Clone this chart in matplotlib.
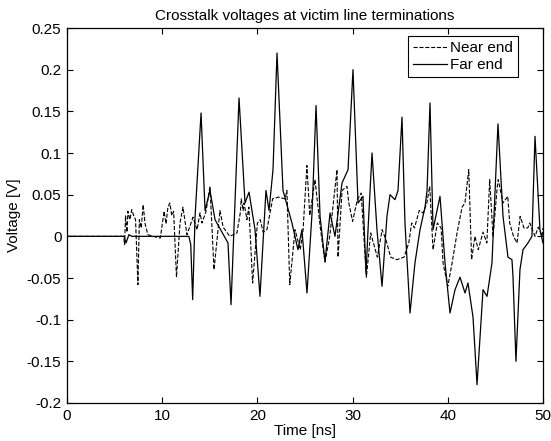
import matplotlib
matplotlib.use("Agg")
import matplotlib.pyplot as plt

plt.rcParams["font.family"] = ["Liberation Sans", "DejaVu Sans"]
plt.rcParams["axes.unicode_minus"] = False

# near end (dashed) - time [ns], voltage [V]
near_t = [0, 5.95, 6.05, 6.15, 6.3, 6.4, 6.6, 6.8, 7.0, 7.2, 7.45, 7.6, 7.8, 8.0,
          8.2, 8.5, 9.0, 9.8, 10.2, 10.4, 10.6, 10.8, 11.0, 11.2, 11.5, 11.87,
          12.18, 12.6, 13.24, 13.66, 13.97, 14.18, 14.6, 15.02, 15.44, 16.07,
          16.4, 17.1, 17.85, 18.2, 18.3, 18.5, 18.6, 18.9, 19.1, 19.5, 20.0,
          20.3, 20.6, 21.0, 21.6, 22.2, 22.9, 23.1, 23.4, 23.95, 24.5, 24.8,
          25.2, 25.5, 26.05, 26.6, 27.1, 27.6, 28.36, 28.47, 28.89, 29.41,
          29.6, 30.0, 30.5, 30.9, 31.45, 31.9, 32.6, 33.1, 33.5, 34.0, 34.65,
          35.4, 35.9, 36.2, 36.5, 37.0, 37.4, 37.8, 38.1, 38.45, 38.9, 39.3,
          39.5, 40.0, 40.45, 40.97, 41.5, 41.8, 42.2, 42.5, 42.85, 43.2, 43.7,
          44.1, 44.4, 44.75, 45.2, 45.3, 45.8, 46.3, 46.5, 46.9, 47.27, 47.6,
          48.0, 48.4, 48.6, 49.16, 49.5, 49.9, 50]
near_v = [0, 0, -0.01, 0.025, 0.005, 0.03, 0.02, 0.032, 0.025, 0.02, -0.058,
          0.02, 0.01, 0.038, 0.015, 0.002, 0, -0.002, 0.03, 0.015, 0.035, 0.04,
          0.025, 0.03, -0.049, 0.016, 0.035, 0.002, 0.023, 0.008, 0.028, 0.016,
          0.03, 0.06, -0.04, 0.031, 0.011, 0.0, 0.004, 0.028, 0.045, 0.031,
          0.04, 0.02, 0.035, -0.056, 0.016, 0.02, 0.005, 0.008, 0.045, 0.047,
          0.045, 0.055, -0.058, 0.008, -0.016, 0.008, 0.085, 0.025, 0.068,
          0.011, -0.031, 0.0, 0.08, -0.025, 0.055, 0.06, 0.04, 0.018, 0.044,
          0.052, -0.049, 0.004, -0.025, 0.008, -0.004, -0.025, -0.028, -0.025,
          -0.008, 0.016, 0.01, 0.031, 0.028, 0.04, 0.06, -0.016, 0.016, 0.01,
          -0.032, -0.06, -0.032, 0.004, 0.035, 0.04, 0.08, -0.028, 0.0, -0.016,
          0.005, -0.008, 0.068, 0.0, 0.06, 0.068, 0.04, 0.048, 0.016, 0.0,
          -0.008, 0.024, 0.01, 0.01, 0.016, 0.0, 0.011, 0.0, 0.01]

# far end (solid)
far_t = [0, 6.0, 6.2, 6.5, 6.8, 12.8, 13.0, 13.2, 13.45, 14.08, 14.5, 15.02,
         15.55, 16.91, 17.23, 18.07, 18.7, 19.12, 19.75, 20.27, 20.9, 21.22,
         21.64, 22.06, 22.69, 23.63, 24.26, 24.68, 25.21, 25.74, 26.16, 26.58,
         27.1, 27.63, 28.15, 28.89, 29.52, 30.04, 30.57, 31.09, 31.41, 31.62,
         32.04, 32.56, 33.09, 33.61, 33.93, 34.45, 34.77, 35.19, 35.5, 36.03,
         36.55, 37.08, 37.61, 37.82, 38.13, 38.45, 39.18, 39.71, 40.23, 40.76,
         41.28, 41.81, 42.12, 42.65, 43.07, 43.7, 44.12, 44.64, 45.27, 45.8,
         46.32, 46.74, 46.85, 47.16, 47.58, 47.9, 48.42, 48.84, 49.16, 49.68, 50]
far_v = [0, 0, -0.008, 0.002, 0, 0, -0.01, -0.076, 0.023, 0.148, 0.031, 0.055,
         0.02, -0.008, -0.082, 0.166, 0.04, 0.053, 0.008, -0.072, 0.055, 0.031,
         0.08, 0.22, 0.055, 0.016, -0.016, 0.008, -0.068, 0.028, 0.157, 0.024,
         -0.03, 0.028, 0.0, 0.064, 0.08, 0.2, 0.04, 0.048, -0.045, 0.008, 0.1,
         0.008, -0.06, 0.024, 0.05, 0.044, 0.055, 0.143, 0.016, -0.092, -0.032,
         0.008, 0.035, 0.055, 0.16, 0.008, 0.048, -0.032, -0.092, -0.064,
         -0.049, -0.068, -0.056, -0.097, -0.178, -0.064, -0.072, -0.032, 0.135,
         0.024, -0.025, -0.028, -0.049, -0.15, -0.04, -0.016, -0.008, 0.0,
         0.12, 0.008, -0.008]

xticks = [0, 10, 20, 30, 40, 50]
yticks = [-0.2, -0.15, -0.1, -0.05, 0, 0.05, 0.1, 0.15, 0.2, 0.25]
ytick_labels = ["-0.2", "-0.15", "-0.1", "-0.05", "0", "0.05", "0.1", "0.15", "0.2", "0.25"]

fig = plt.figure(figsize=(5.51, 4.41), dpi=100)
ax = fig.add_axes([67 / 551, 1 - 403 / 441, 476 / 551, 375 / 441])

ax.plot(near_t, near_v, color="black", linestyle="--", linewidth=0.8, label="Near end")
ax.plot(far_t, far_v, color="black", linestyle="-", linewidth=0.9, label="Far end")

ax.set_xlim(0, 50)
ax.set_ylim(-0.2, 0.25)
ax.set_xticks(xticks)
ax.set_xticklabels([str(t) for t in xticks])
ax.set_yticks(yticks)
ax.set_yticklabels(ytick_labels)
ax.tick_params(direction="in", length=4, width=0.8, top=True, right=True,
               labelsize=11, pad=4, colors="black")
for s in ax.spines.values():
    s.set_linewidth(0.9)

ax.set_title("Crosstalk voltages at victim line terminations", fontsize=11, pad=6)
ax.set_xlabel("Time [ns]", fontsize=11, labelpad=1)
ax.set_ylabel("Voltage [V]", fontsize=11, labelpad=4)

leg = ax.legend(loc="upper right", bbox_to_anchor=(0.9475, 0.98), borderaxespad=0,
                fontsize=11, fancybox=False, framealpha=1, edgecolor="black",
                handlelength=2.2, handletextpad=0.2, labelspacing=0.2, borderpad=0.35)
leg.get_frame().set_linewidth(0.8)

fig.savefig("out.png", dpi=100)
